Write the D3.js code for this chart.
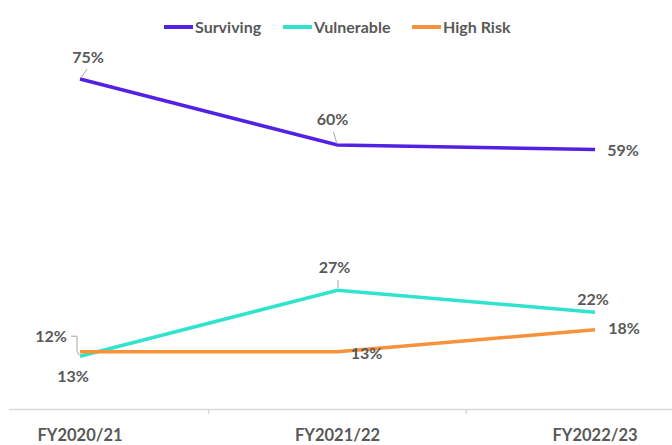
<!DOCTYPE html>
<html>
<head>
<meta charset="utf-8">
<script src="https://cdn.jsdelivr.net/npm/d3@7"></script>
<style>
  body { margin: 0; background: #fff; }
  svg { font-family: 'Lato', 'DejaVu Sans', sans-serif; }
</style>
</head>
<body>
<svg width="672" height="445"></svg>
<script>
// data
var years = ['FY2020/21', 'FY2021/22', 'FY2022/23'];
var surviving = [75, 60, 59];
var vulnerable = [12, 27, 22];
var highRisk = [13, 13, 18];
var seriesNames = ['Surviving', 'Vulnerable', 'High Risk'];
var seriesColors = ['#5321e4', '#2fe3cd', '#f7923a'];

var svg = d3.select('svg');

var x = d3.scalePoint().domain(years).range([80, 595]);
var y = d3.scaleLinear().domain([0, 80]).range([409, 57]);

var series = [surviving, vulnerable, highRisk].map(function(vals, i) {
  return {
    name: seriesNames[i],
    color: seriesColors[i],
    values: vals.map(function(v, j) { return {year: years[j], value: v}; })
  };
});

// x axis line + ticks between categories
var step = x.step();
svg.append('line')
  .attr('x1', 9).attr('x2', 672)
  .attr('y1', y(0) + 0.5).attr('y2', y(0) + 0.5)
  .attr('stroke', '#d9d9d9').attr('stroke-width', 1.5);

svg.selectAll('.tick-mark')
  .data(years.slice(1))
  .enter()
  .append('line')
  .attr('class', 'tick-mark')
  .attr('x1', function(d) { return x(d) - step / 2; })
  .attr('x2', function(d) { return x(d) - step / 2; })
  .attr('y1', y(0)).attr('y2', y(0) + 5)
  .attr('stroke', '#d9d9d9').attr('stroke-width', 1.5);

svg.selectAll('.xlab')
  .data(years)
  .enter()
  .append('text')
  .attr('class', 'xlab')
  .attr('x', function(d) { return x(d); })
  .attr('y', 441)
  .attr('text-anchor', 'middle')
  .attr('font-size', '16.5px')
  .attr('font-weight', 'bold')
  .attr('fill', '#595959')
  .text(function(d) { return d; });

// lines
var line = d3.line()
  .x(function(d) { return x(d.year); })
  .y(function(d) { return y(d.value); });

// draw vulnerable and high risk first, surviving on top
[1, 2, 0].forEach(function(i) {
  svg.append('path')
    .datum(series[i].values)
    .attr('fill', 'none')
    .attr('stroke', series[i].color)
    .attr('stroke-width', 3.5)
    .attr('d', line);
});

// data labels: offsets per point (dx, dy from point)
var labelOffsets = [
  [[8, -22], [-5, -26], [28, 1]],
  [[-29, -20], [-3, -23], [-2, -13]],
  [[-7, 25], [29, 2], [29, -1]]
];

series.forEach(function(s, i) {
  svg.selectAll('.lab' + i)
    .data(s.values)
    .enter()
    .append('text')
    .attr('class', 'lab' + i)
    .attr('x', function(d, j) { return x(d.year) + labelOffsets[i][j][0]; })
    .attr('y', function(d, j) { return y(d.value) + labelOffsets[i][j][1]; })
    .attr('dy', '0.35em')
    .attr('text-anchor', 'middle')
    .attr('font-size', '16px')
    .attr('font-weight', 'bold')
    .attr('fill', '#595959')
    .text(function(d) { return d.value + '%'; });
});

// leader lines
var leaderStroke = '#a6a6a6';
var p0 = [x(years[0]), y(surviving[0])];
svg.append('line')
  .attr('x1', p0[0] + 7).attr('y1', p0[1] - 10)
  .attr('x2', p0[0] + 1).attr('y2', p0[1] - 1)
  .attr('stroke', leaderStroke).attr('stroke-width', 1);

var p3 = [x(years[1]), y(surviving[1])];
svg.append('line')
  .attr('x1', p3[0] - 4).attr('y1', p3[1] - 13)
  .attr('x2', p3[0] - 0.5).attr('y2', p3[1] - 1)
  .attr('stroke', leaderStroke).attr('stroke-width', 1);

var p1 = [x(years[1]), y(vulnerable[1])];
svg.append('line')
  .attr('x1', p1[0] + 0.5).attr('y1', p1[1] - 10)
  .attr('x2', p1[0] + 0.5).attr('y2', p1[1] - 2)
  .attr('stroke', leaderStroke).attr('stroke-width', 1);

var p2 = [x(years[0]), y(vulnerable[0])];
svg.append('path')
  .attr('d', 'M' + (p2[0] - 9) + ',' + (p2[1] - 20) +
             'H' + (p2[0] - 3) + 'V' + (p2[1] - 5) + 'L' + (p2[0] - 1) + ',' + (p2[1] - 1))
  .attr('fill', 'none')
  .attr('stroke', leaderStroke).attr('stroke-width', 1);

// legend
var legendX = [164, 283, 412];
var legend = svg.selectAll('.legend')
  .data(series)
  .enter()
  .append('g')
  .attr('class', 'legend')
  .attr('transform', function(d, i) { return 'translate(' + legendX[i] + ',27)'; });

legend.append('line')
  .attr('x1', 0).attr('x2', 29)
  .attr('y1', 0).attr('y2', 0)
  .attr('stroke', function(d) { return d.color; })
  .attr('stroke-width', 4);

legend.append('text')
  .attr('x', 31)
  .attr('dy', '0.35em')
  .attr('font-size', '16px')
  .attr('font-weight', 'bold')
  .attr('fill', '#595959')
  .text(function(d) { return d.name; });
</script>
</body>
</html>
